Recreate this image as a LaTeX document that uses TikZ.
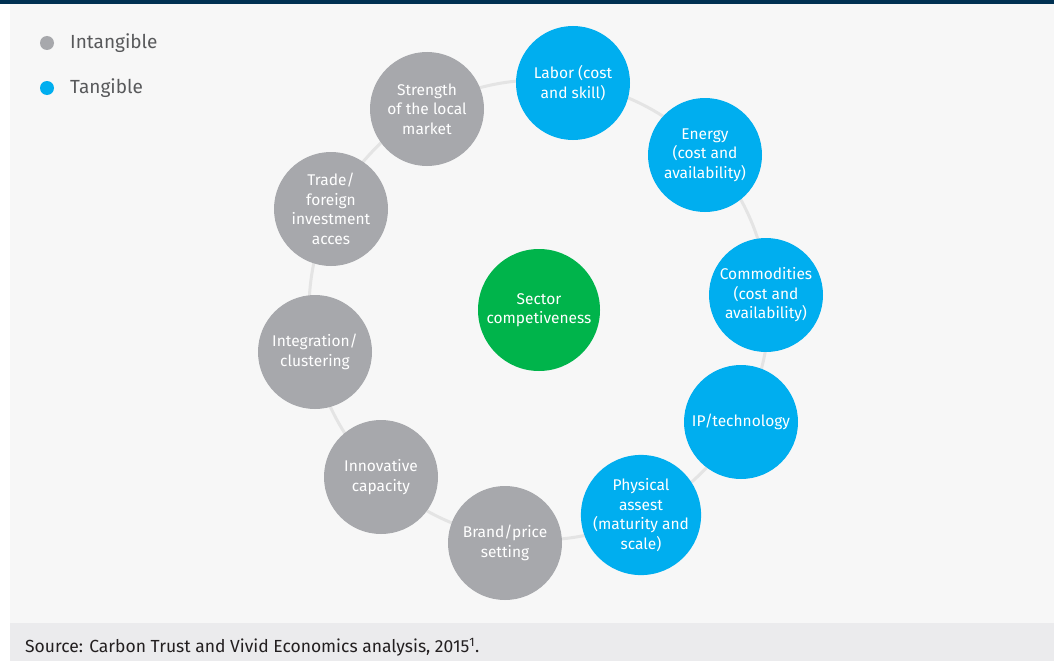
\documentclass[tikz,border=0pt]{standalone}
\usepackage{fontspec}
\setmainfont{Fira Sans}
\definecolor{band}{HTML}{003152}
\definecolor{bg}{HTML}{F7F7F7}
\definecolor{srcbar}{HTML}{EBEBED}
\definecolor{grayc}{HTML}{A7A8AC}
\definecolor{bluec}{HTML}{00AEEF}
\definecolor{greenc}{HTML}{00B44B}
\definecolor{ringc}{HTML}{E4E4E4}
\definecolor{legtext}{HTML}{58595B}
\definecolor{srctext}{HTML}{231F20}
\begin{document}
\begin{tikzpicture}[x=1pt,y=-1pt,
  bubble/.style={circle,minimum size=114pt,inner sep=0pt,text=white,align=center,
    font=\fontsize{15.5}{19.5}\selectfont},
  intang/.style={bubble,fill=grayc},
  tang/.style={bubble,fill=bluec},
  core/.style={bubble,fill=greenc,minimum size=122pt},
  legdot/.style={circle,minimum size=14pt,inner sep=0pt},
  legtxt/.style={anchor=west,text=legtext,inner sep=0pt,font=\fontsize{19}{22}\selectfont},
  ring/.style={draw=ringc,line width=3pt}]
\useasboundingbox (0,0) rectangle (1054,661);
\fill[white] (0,0) rectangle (1054,661);
\fill[bg] (10,4) rectangle (1054,623);
\fill[srcbar] (10,623) rectangle (1054,661);
\fill[band] (0,0) rectangle (1054,4);
% ring
\coordinate (c0) at (539,310);
\draw[ring] (c0) circle[radius=230];
% legend
\node[legdot,fill=grayc] (ld1) at (47,43) {};
\node[legtxt] (lt1) at (70,43) {Intangible};
\node[legdot,fill=bluec] (ld2) at (47,88) {};
\node[legtxt] (lt2) at (70,88) {Tangible};
% bubbles
\node[intang] (strength) at (427,109) {Strength\\of the local\\market};
\node[tang] (labor) at (573,83) {Labor (cost\\and skill)};
\node[tang] (energy) at (705,155) {Energy\\(cost and\\availability)};
\node[tang] (commod) at (766,295) {Commodities\\(cost and\\availability)};
\node[tang] (ip) at (741,422) {IP/technology};
\node[tang] (phys) at (641,515) {Physical\\assest\\(maturity and\\scale)};
\node[intang] (brand) at (505,543) {Brand/price\\setting};
\node[intang] (innov) at (381,477) {Innovative\\capacity};
\node[intang] (integ) at (315,352) {Integration/\\clustering};
\node[intang] (trade) at (331,209) {Trade/\\foreign\\investment\\acces};
\node[core] (sector) at (c0) {Sector\\competiveness};
% source
\node[anchor=west,inner sep=0pt,text=srctext,font=\fontsize{17.5}{20}\selectfont] (src) at (25,647)
  {Source: Carbon Trust and Vivid Economics analysis, 2015\textsuperscript{1}.};
\end{tikzpicture}
\end{document}
